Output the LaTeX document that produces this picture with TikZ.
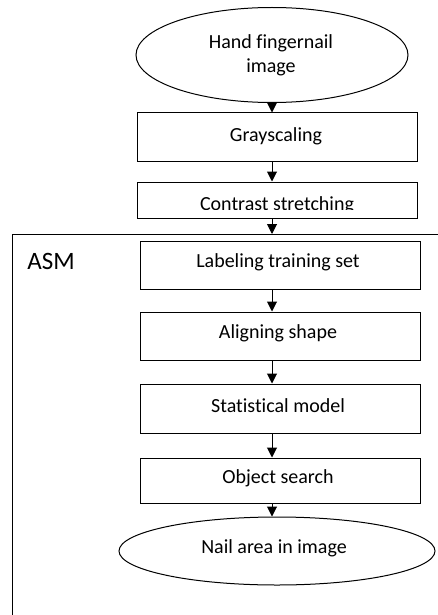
\documentclass[tikz,border=0pt]{standalone}
\usepackage{fontspec}
\setmainfont{Carlito}[Ligatures={NoCommon}]
\usetikzlibrary{shapes.geometric,arrows.meta}
\begin{document}
\begin{tikzpicture}[x=1pt,y=-1pt,
  every node/.style={font=\fontsize{20}{24}\selectfont, inner sep=0pt, align=center},
  stepbox/.style={draw, line width=1pt, minimum width=280pt},
  oval/.style={draw, ellipse, line width=1pt},
  arr/.style={line width=1pt, -{Triangle[length=10pt,width=10pt]}},
  frame/.style={line width=1pt}]
\useasboundingbox (0,0) rectangle (438,615);
\node[oval, minimum width=272pt, minimum height=95pt] (e1) at (272,55) {};
\node (e1t) at (271,55) {Hand fingernail\\image};
\node[stepbox, minimum height=48pt] (g) at (277,137) {};
\node (gt) at (276,136) {Grayscaling};
\node[stepbox, minimum height=36pt] (c) at (277,200) {};
\begin{scope}
\clip (c.south west) ++(1,-9) rectangle (c.north east);
\node (ct) at (277,205) {Contrast stretching};
\end{scope}
\coordinate (ftl) at (12,234);
\coordinate (ftr) at (438,234);
\coordinate (fbl) at (12,615);
\draw[frame] (ftr) -- (ftl) -- (fbl);
\node[font=\fontsize{25}{30}\selectfont] (asm) at (51,261) {ASM};
\node[stepbox, minimum height=48pt] (l) at (280,265) {};
\node (lt) at (278,262) {Labeling training set};
\node[stepbox, minimum height=48pt] (a) at (280,336) {};
\node (at) at (278,333) {Aligning shape};
\node[stepbox, minimum height=49pt] (s) at (280,408.5) {};
\node (st) at (278,406) {Statistical model};
\node[stepbox, minimum height=45pt] (o) at (280,480.5) {};
\node (ot) at (278,478) {Object search};
\node[oval, minimum width=316pt, minimum height=68pt] (n) at (277,551) {};
\node (nt) at (274,548) {Nail area in image};
\draw[arr] (e1.south) -- (e1.south |- g.north);
\draw[arr] (g.south -| e1) -- (c.north -| e1);
\draw[arr] (c.south -| e1) -- (ftl -| e1);
\draw[arr] (l.south -| e1) -- (a.north -| e1);
\draw[arr] (a.south -| e1) -- (s.north -| e1);
\draw[arr] (s.south -| e1) -- (o.north -| e1);
\draw[arr] (o.south -| e1) -- (n.north -| e1);
\end{tikzpicture}
\end{document}
